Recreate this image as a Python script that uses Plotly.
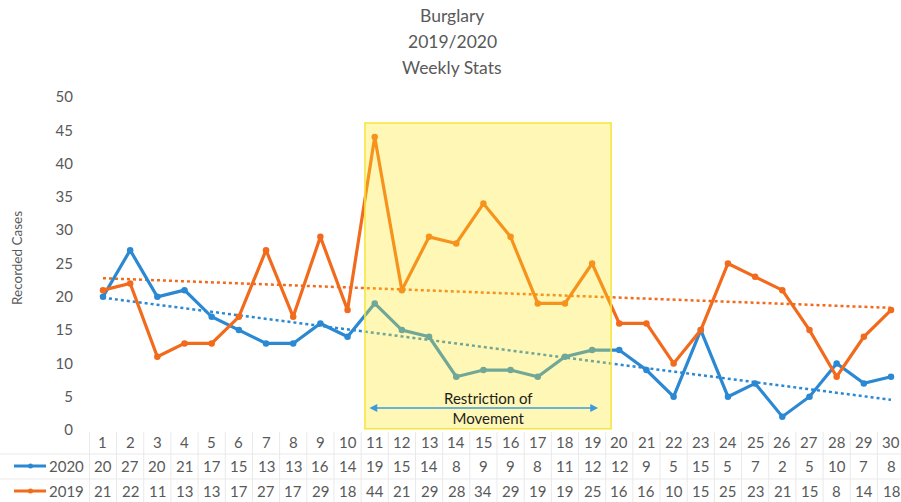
import numpy as np
import plotly.graph_objects as go

weeks = list(range(1, 31))
cases_2020 = [20, 27, 20, 21, 17, 15, 13, 13, 16, 14, 19, 15, 14, 8, 9, 9, 8, 11, 12, 12,
              9, 5, 15, 5, 7, 2, 5, 10, 7, 8]
cases_2019 = [21, 22, 11, 13, 13, 17, 27, 17, 29, 18, 44, 21, 29, 28, 34, 29, 19, 19, 25, 16,
              16, 10, 15, 25, 23, 21, 15, 8, 14, 18]
series_names = ["2020", "2019"]
restriction_weeks = (10.64, 19.70)
restriction_label = "Restriction of<br>Movement"
title_lines = ["Burglary", "2019/2020", "Weekly Stats"]
y_title = "Recorded Cases"

BLUE = "#2B88D3"
ORANGE = "#F26A1B"
GRAY = "#595959"
FONT = "Lato"

W, H = 901, 502
ML, MR, MT, MB = 89, 0, 97, 72
PW, PH = W - ML - MR, H - MT - MB


def py(p):  # pixel y -> paper y
    return (H - MB - p) / PH


def px(p):  # pixel x -> paper x
    return (p - ML) / PW


fig = go.Figure()

wk = np.array(weeks, dtype=float)
for vals, col in [(cases_2020, BLUE), (cases_2019, ORANGE)]:
    slope, inter = np.polyfit(wk, np.array(vals, dtype=float), 1)
    fig.add_trace(go.Scatter(x=[weeks[0], weeks[-1]],
                             y=[inter + slope * weeks[0], inter + slope * weeks[-1]],
                             mode="lines", line=dict(color=col, width=2.5, dash="dot"),
                             showlegend=False, hoverinfo="skip"))

for vals, col, name in [(cases_2020, BLUE, series_names[0]), (cases_2019, ORANGE, series_names[1])]:
    fig.add_trace(go.Scatter(x=weeks, y=vals, mode="lines+markers", name=name,
                             line=dict(color=col, width=3.2),
                             marker=dict(color=col, size=6.5),
                             showlegend=False))

# restriction rectangle (drawn above lines, semi-transparent)
fig.add_shape(type="rect", xref="x", yref="y",
              x0=restriction_weeks[0], x1=restriction_weeks[1], y0=0.2, y1=46.1,
              fillcolor="rgba(255,232,30,0.33)", line=dict(color="#F5E53A", width=1.5),
              layer="above")

# double arrow
fig.add_annotation(x=restriction_weeks[1] - 0.48, y=3.3, ax=restriction_weeks[0] + 0.11, ay=3.3,
                   xref="x", yref="y", axref="x", ayref="y", text="",
                   showarrow=True, arrowhead=2, arrowside="end+start", arrowsize=1.2,
                   arrowwidth=1.3, arrowcolor="#3D9BDB")
fig.add_annotation(x=(restriction_weeks[0] + restriction_weeks[1]) / 2, y=py(408),
                   xref="x", yref="paper", text=restriction_label, showarrow=False,
                   font=dict(family=FONT, size=15, color="#1E1E1E"), align="center",
                   yanchor="middle")

# title
for i, t in enumerate(title_lines):
    fig.add_annotation(x=px(452), y=py(15 + 26 * i), xref="paper", yref="paper",
                       text=t, showarrow=False, yanchor="middle",
                       font=dict(family=FONT, size=17.5, color=GRAY))

# y axis title
fig.add_annotation(x=px(17), y=py(258), xref="paper", yref="paper", text=y_title,
                   textangle=-90, showarrow=False, xanchor="center", yanchor="middle",
                   font=dict(family=FONT, size=13.5, color=GRAY))

# data table
row_y = [442, 466, 491]
for w in weeks:
    fig.add_annotation(x=w, y=py(row_y[0]), xref="x", yref="paper", text=str(w),
                       showarrow=False, yanchor="middle",
                       font=dict(family=FONT, size=15, color=GRAY))
for r, vals in enumerate([cases_2020, cases_2019]):
    for w, v in zip(weeks, vals):
        fig.add_annotation(x=w, y=py(row_y[r + 1]), xref="x", yref="paper", text=str(v),
                           showarrow=False, yanchor="middle",
                           font=dict(family=FONT, size=15, color=GRAY))

# table grid lines (faint)
GRID = "#E9E9E9"
for k in range(0, 31):
    fig.add_shape(type="line", xref="x", yref="paper", x0=k + 0.5, x1=k + 0.5,
                  y0=py(432), y1=py(502), line=dict(color=GRID, width=1), layer="below")
for yy in [454, 479]:
    fig.add_shape(type="line", xref="paper", yref="paper", x0=px(0), x1=px(901),
                  y0=py(yy), y1=py(yy), line=dict(color=GRID, width=1), layer="below")

# legend keys in table rows
for r, (name, col) in enumerate([(series_names[0], BLUE), (series_names[1], ORANGE)]):
    yk = py(row_y[r + 1])
    fig.add_shape(type="line", xref="paper", yref="paper", x0=px(14), x1=px(46),
                  y0=yk, y1=yk, line=dict(color=col, width=3))
    fig.add_shape(type="circle", xref="paper", yref="paper",
                  x0=px(28), x1=px(33), y0=yk - 2.5 / PH, y1=yk + 2.5 / PH,
                  fillcolor=col, line=dict(color=col, width=0))
    fig.add_annotation(x=px(47), y=yk, xref="paper", yref="paper", text=name,
                       showarrow=False, xanchor="left", yanchor="middle",
                       font=dict(family=FONT, size=15, color=GRAY))

fig.update_layout(
    width=W, height=H,
    margin=dict(l=ML, r=MR, t=MT, b=MB),
    paper_bgcolor="white", plot_bgcolor="white",
    showlegend=False,
    xaxis=dict(range=[0.485, 30.368], showticklabels=False, showgrid=False,
               zeroline=False, showline=False, ticks=""),
    yaxis=dict(range=[0, 50], tickvals=list(range(0, 51, 5)), showgrid=False,
               zeroline=False, showline=False, ticks="",
               ticklabelstandoff=15,
               tickfont=dict(family=FONT, size=15, color=GRAY)),
)

fig.write_html("out.html", config={"displayModeBar": False},
               post_script="document.body.style.margin='0';document.body.style.overflow='hidden';")
